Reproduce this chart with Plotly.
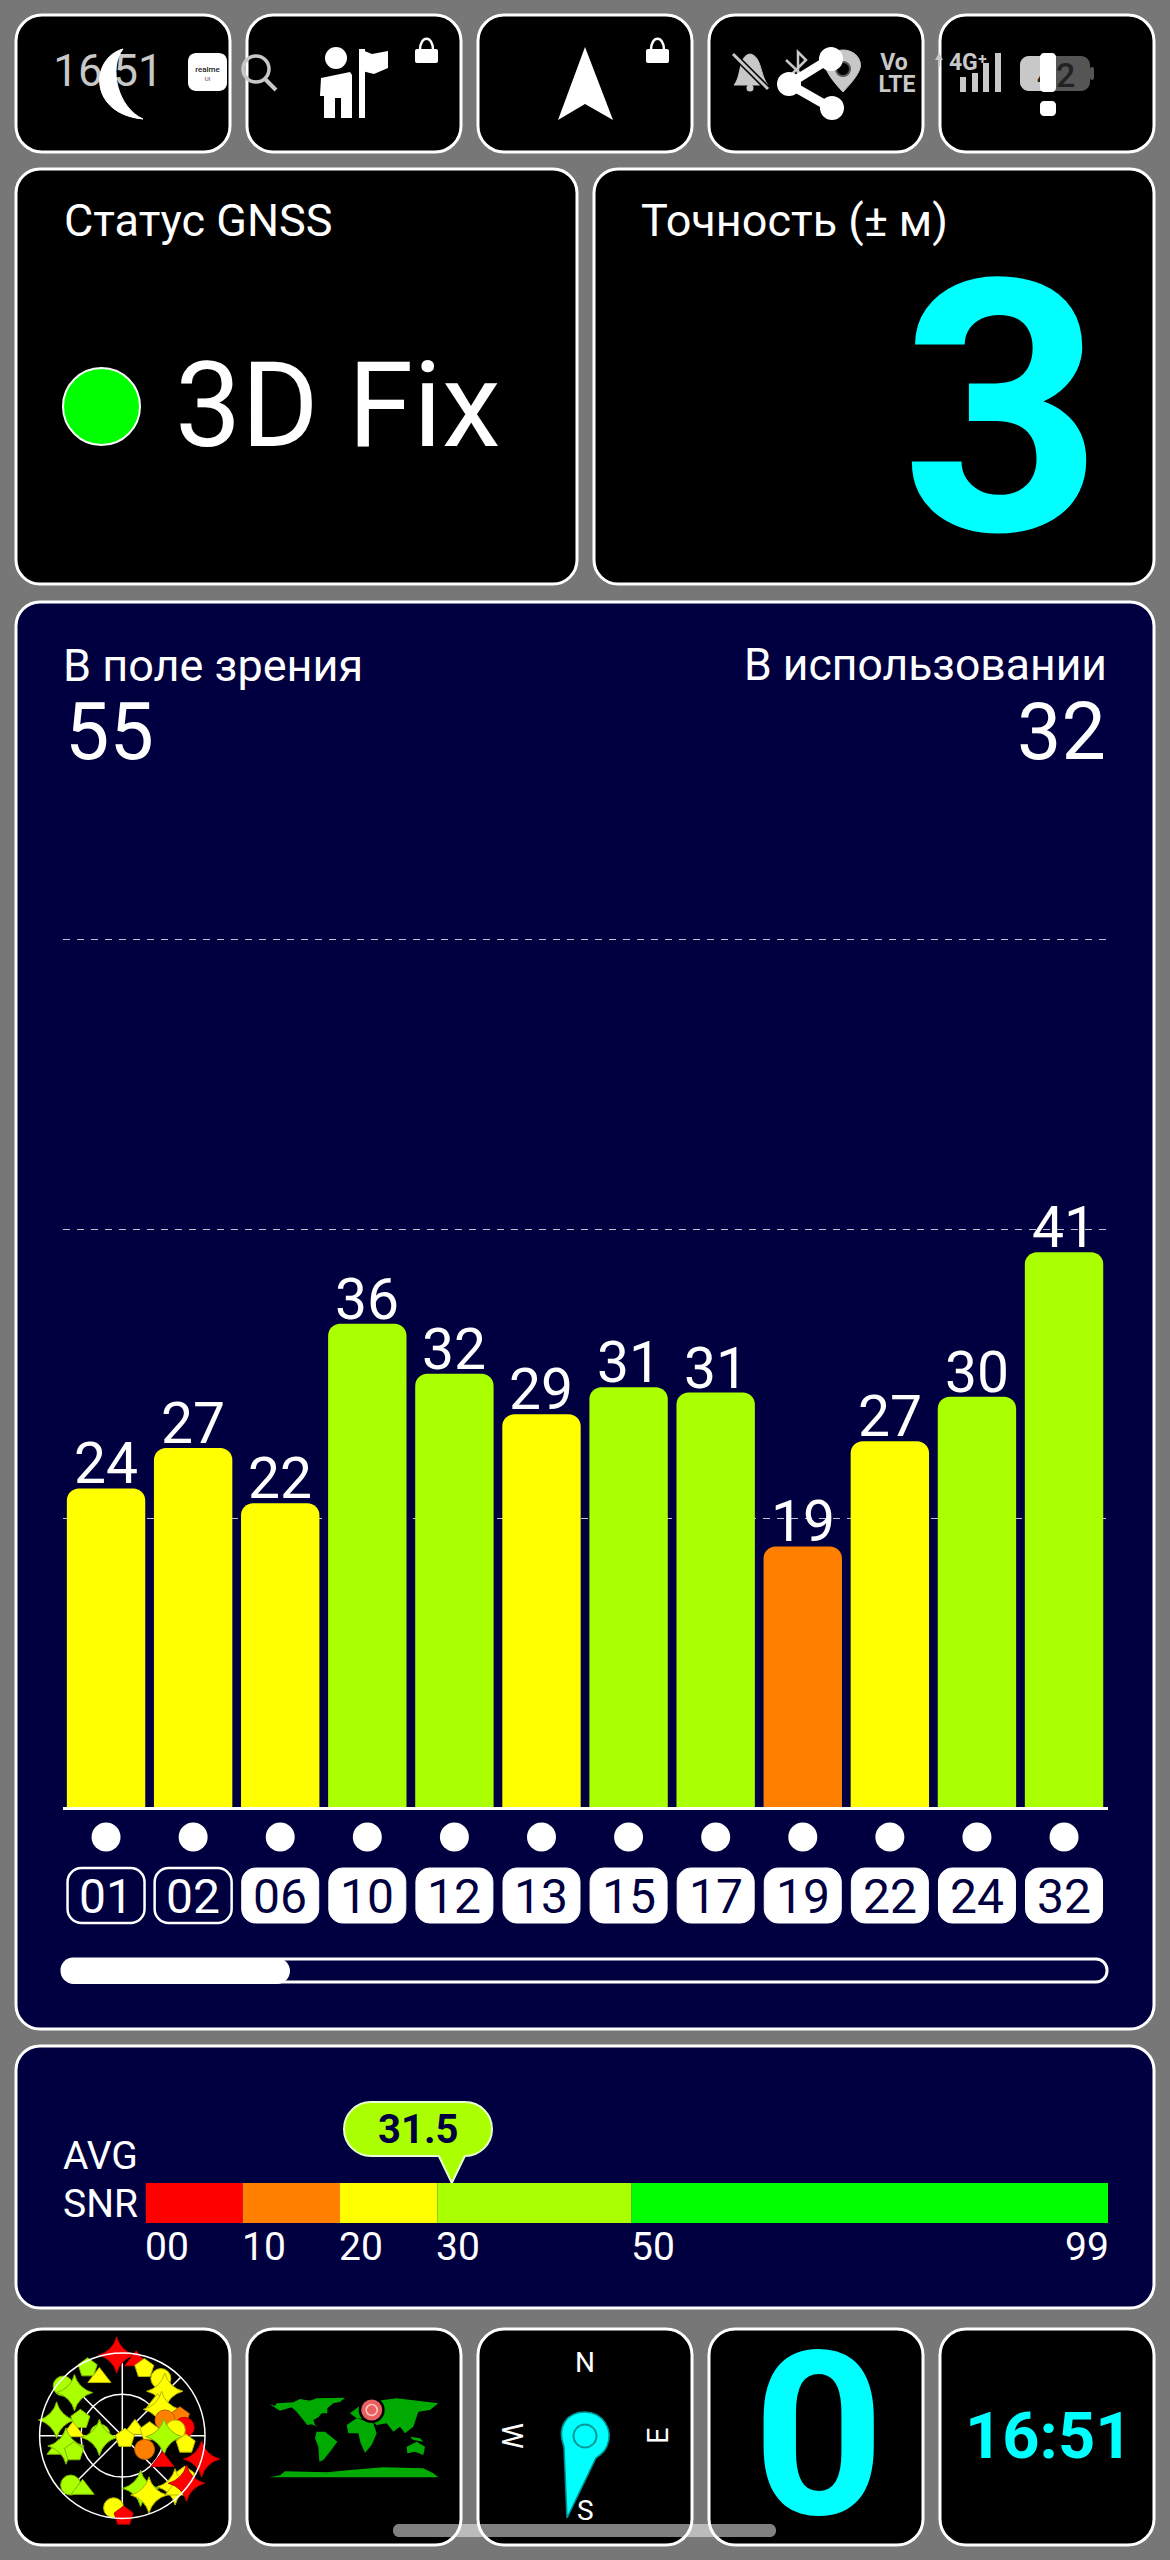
import plotly.graph_objects as go

# ---------- data ----------
sat_ids = ["01","02","06","10","12","13","15","17","19","22","24","32"]
sat_snr = [23.6,26.6,22.5,35.8,32.1,29.1,31.1,30.7,19.3,27.1,30.4,41.1]
sat_labels = ["24","27","22","36","32","29","31","31","19","27","30","41"]
sat_outlined = ["01","02"]
grid_vals = [21.4,42.8,64.3]

snr_start = [0,10,20,30,50]
snr_width = [10,10,10,20,49]
snr_ticks = [0,10,20,30,50]
snr_ticktext = ["00","10","20","30","50"]
snr_end = 99
snr_endtext = "99"
avg_snr = 31.5

in_view = "55"
in_use = "32"
accuracy = "3"
status = "3D Fix"
speed = "0"
clock = "16:51"

sky_az = [356,10.3,10.6,18.1,333,338.5,310,312,34,43.7,47.5,56.2,283.4,291.3,71.8,82.3,69.8,83.9,274.6,273.4,265.9,
          63.4,135,81.6,91.4,97.5,258,259.6,251.7,121.5,122.8,106.4,122.8,134.1,135,126.5,226.3,216.5,160.8,155.8,186.9,179]
sky_zen = [88,91,83,77,83,68,84,70,75,67,52,51.5,73.5,49,66,68,49.5,58,54,24.4,25,
           15.4,4,30,45.4,69.6,71,62.3,55.4,28.5,52,90,81,80,83.6,87,77.8,72.6,60.7,70.8,79,87.5]
sky_kind = ["star","circle","triangle","pentagon","pentagon","triangle","circle","star","circle","star","triangle","star","star","pentagon","pentagon","circle","circle","circle","triangle","circle","star",
            "triangle","pentagon","pentagon","star","pentagon","triangle","star","pentagon","circle","triangle","star","pentagon","star","triangle","star","circle","triangle","star","star","circle","pentagon"]
sky_level = ["r","y","r","y","l","y","l","l","y","y","y","y","l","l","o","r","o","y","y","l","l",
             "y","y","y","l","y","l","l","l","o","r","r","y","y","y","r","l","l","l","y","y","r"]

# ---------- style ----------
W, H = 1170, 2560
GREY = "#777777"; NAVY = "#000040"; CYAN = "#00ffff"; SOFT = "#c8c8c8"
RED = "#ff0000"; ORANGE = "#ff8000"; YELLOW = "#ffff00"; LIME = "#aaff00"; GREEN = "#00ff00"
MAPG = "#00aa00"
FONT = "Roboto"

def px(x): return x / W
def py(y): return 1 - y / H

def level_color(v):
    v = float(v)
    if v < 10: return RED
    if v < 20: return ORANGE
    if v < 30: return YELLOW
    if v < 50: return LIME
    return GREEN

shapes = []; annos = []

def path_str(cmds):
    out = []
    for c in cmds:
        if isinstance(c, str):
            out.append(c)
        else:
            out.append(f"{px(c[0]):.6f},{py(c[1]):.6f}")
    return " ".join(out)

def poly(points, fill, line=None, lw=0, layer="below"):
    cmds = []
    for i, p in enumerate(points):
        cmds += ["M" if i == 0 else "L", p]
    cmds.append("Z")
    shapes.append(dict(type="path", xref="paper", yref="paper", path=path_str(cmds),
                       fillcolor=fill, line=dict(color=line or "rgba(0,0,0,0)", width=lw), layer=layer))

def polyline(points, color, lw, layer="below"):
    cmds = []
    for i, p in enumerate(points):
        cmds += ["M" if i == 0 else "L", p]
    shapes.append(dict(type="path", xref="paper", yref="paper", path=path_str(cmds),
                       fillcolor="rgba(0,0,0,0)", line=dict(color=color, width=lw), layer=layer))

def rrect(x0, y0, x1, y1, r, fill, line=None, lw=0, layer="below"):
    k = 0.55 * r
    cmds = ["M", (x0 + r, y0), "L", (x1 - r, y0),
            "C", (x1 - r + k, y0), (x1, y0 + r - k), (x1, y0 + r),
            "L", (x1, y1 - r),
            "C", (x1, y1 - r + k), (x1 - r + k, y1), (x1 - r, y1),
            "L", (x0 + r, y1),
            "C", (x0 + r - k, y1), (x0, y1 - r + k), (x0, y1 - r),
            "L", (x0, y0 + r),
            "C", (x0, y0 + r - k), (x0 + r - k, y0), (x0 + r, y0), "Z"]
    shapes.append(dict(type="path", xref="paper", yref="paper", path=path_str(cmds),
                       fillcolor=fill, line=dict(color=line or "rgba(0,0,0,0)", width=lw), layer=layer))

def circle(cx, cy, r, fill, line=None, lw=0, layer="below"):
    shapes.append(dict(type="circle", xref="paper", yref="paper",
                       x0=px(cx - r), x1=px(cx + r), y0=py(cy + r), y1=py(cy - r),
                       fillcolor=fill, line=dict(color=line or "rgba(0,0,0,0)", width=lw), layer=layer))

def text(x, y, s, size, color="#ffffff", anchor="left", weight=400, angle=0, family=FONT):
    annos.append(dict(xref="paper", yref="paper", x=px(x), y=py(y), text=s, showarrow=False,
                      xanchor=anchor, yanchor="middle", textangle=angle,
                      font=dict(family=family, size=size, color=color, weight=weight)))

# ---------- panels ----------
small_x = [16, 247, 478, 709, 940]
for x in small_x:
    rrect(x, 15, x + 214, 152, 26, "#000000", "#ffffff", 3)
    rrect(x, 2329, x + 214, 2545, 26, "#000000", "#ffffff", 3)
rrect(16, 169, 577, 584, 24, "#000000", "#ffffff", 3)
rrect(594, 169, 1154, 584, 24, "#000000", "#ffffff", 3)
rrect(16, 602, 1154, 2029, 24, NAVY, "#ffffff", 3)
rrect(16, 2046, 1154, 2308, 24, NAVY, "#ffffff", 3)

# ---------- status bar icons ----------
shapes.append(dict(type="path", xref="paper", yref="paper",
                   path=path_str(["M", (123, 49), "C", (90, 58), (88, 114), (143, 119),
                                  "C", (118, 108), (108, 68), (123, 49), "Z"]),
                   fillcolor="#ffffff", line=dict(color="#ffffff", width=1), layer="above"))
rrect(188, 53, 227, 91, 8, "#ffffff")
circle(256, 69, 13, "rgba(0,0,0,0)", SOFT, 3.5)
polyline([(265, 79), (276, 90)], SOFT, 4)
# person with flag
circle(336, 58, 11, "#ffffff")
poly([(321, 78), (350, 72), (352, 75), (352, 118), (341, 118), (341, 98), (335, 98), (335, 118), (324, 118), (324, 96), (320, 96)], "#ffffff")
polyline([(362, 49), (362, 118)], "#ffffff", 6)
poly([(362, 50), (372, 54), (388, 51), (388, 68), (374, 74), (362, 71)], "#ffffff")
# locks
for lx in (415, 646):
    rrect(lx, 49, lx + 23, 63, 2, "#ffffff")
    shapes.append(dict(type="path", xref="paper", yref="paper",
                       path=path_str(["M", (lx + 5, 50), "C", (lx + 5, 35), (lx + 18, 35), (lx + 18, 50)]),
                       fillcolor="rgba(0,0,0,0)", line=dict(color="#ffffff", width=2.5), layer="below"))
# arrow
poly([(585, 47), (613, 120), (585, 104), (558, 120)], "#ffffff")
# bell
shapes.append(dict(type="path", xref="paper", yref="paper",
                   path=path_str(["M", (734, 85), "C", (742, 76), (738, 56), (750, 54), "C", (762, 56), (760, 76), (768, 85), "Z"]),
                   fillcolor=SOFT, line=dict(color=SOFT, width=1), layer="below"))
circle(750, 88, 3.5, SOFT)
polyline([(733, 54), (768, 89)], "#000000", 6)
polyline([(733, 54), (768, 89)], SOFT, 3)
polyline([(786, 60), (803, 76), (798, 82), (798, 52), (806, 60), (788, 78)], SOFT, 2.5)
# pin
shapes.append(dict(type="path", xref="paper", yref="paper",
                   path=path_str(["M", (843, 92), "C", (826, 74), (824, 66), (826, 62), "C", (830, 46), (856, 46), (860, 62),
                                  "C", (862, 68), (858, 76), (843, 92), "Z"]),
                   fillcolor=SOFT, line=dict(color=SOFT, width=1), layer="below"))
circle(843, 69, 7, "#000000", "#555555", 2)
# share
polyline([(831, 58), (789, 84), (831, 108)], "#ffffff", 9, layer="above")
for cy, cx in ((59, 831), (84, 789), (108, 832)):
    circle(cx, cy, 12, "#ffffff", layer="above")
# up arrow + signal
poly([(939, 53), (943, 60), (935, 60)], SOFT)
polyline([(939, 60), (939, 66)], SOFT, 2)
for sx, top in ((963, 77), (975, 73), (986, 63), (998, 53)):
    polyline([(sx, top), (sx, 92)], SOFT, 6)
# battery
rrect(1020, 56, 1090, 91, 9, "#555555")
rrect(1020, 56, 1052, 91, 9, SOFT)
rrect(1090, 67, 1094, 80, 2, "#555555")
# exclamation
rrect(1040, 53, 1056, 92, 4, "#ffffff", layer="above")
rrect(1040, 101, 1056, 116, 4, "#ffffff", layer="above")

# ---------- main text ----------
text(62, 221, "Статус GNSS", 45)
circle(101.5, 406.5, 38.5, GREEN, "#ffffff", 2)
text(173, 406, status, 118)
text(639, 221, "Точность (± м)", 45)
text(1002, 409, accuracy, 352, CYAN, "center", 700)
text(61, 665, "В поле зрения", 45)
text(63, 732, in_view, 79)
text(1109, 665, "В использовании", 44.5, anchor="right")
text(1108, 732, in_use, 79, anchor="right")

# ---------- scrollbar ----------
rrect(62, 1959, 1107, 1982, 11, NAVY, "#ffffff", 3)
rrect(61, 1958, 290, 1984, 13, "#ffffff")

# ---------- satellite IDs ----------
pitch = 87.09
bar_px0 = 62.5
for i, sid in enumerate(sat_ids):
    cx = bar_px0 + pitch * (i + 0.5)
    circle(cx, 1837, 14.5, "#ffffff")
    outlined = sid in sat_outlined
    rrect(cx - 38.5, 1868, cx + 38.5, 1923, 14, NAVY if outlined else "#ffffff", "#ffffff", 2.5 if outlined else 1)
    text(cx, 1896, sid, 48, "#ffffff" if outlined else NAVY, "center")

# ---------- bar value labels ----------
for i, (v, lab) in enumerate(zip(sat_snr, sat_labels)):
    annos.append(dict(xref="x", yref="y", x=i, y=v, text=lab, showarrow=False, xanchor="center",
                      yanchor="bottom", yshift=-11, font=dict(family=FONT, size=57, color="#ffffff")))

# ---------- AVG SNR ----------
text(61, 2156, "AVG", 39)
text(61, 2204, "SNR", 39)
snr_x0, snr_x1 = 145.6, 1108.0
tip = snr_x0 + (snr_x1 - snr_x0) * avg_snr / snr_end
shapes.append(dict(type="path", xref="paper", yref="paper",
                   path=path_str(["M", (371, 2102), "L", (465, 2102),
                                  "C", (480, 2102), (492, 2114), (492, 2129),
                                  "C", (492, 2144), (480, 2156), (465, 2156),
                                  "L", (tip + 13, 2156), "L", (tip, 2183), "L", (tip - 13, 2156),
                                  "L", (371, 2156),
                                  "C", (356, 2156), (344, 2144), (344, 2129),
                                  "C", (344, 2114), (356, 2102), (371, 2102), "Z"]),
                   fillcolor=LIME, line=dict(color="#e8ffd0", width=2), layer="below"))
text(417.5, 2129, f"{avg_snr}", 40, NAVY, "center", 700)

# ---------- world map ----------
def zm(p): return (250 + p[0] / 3, 2330 + p[1] / 3)
land = [
    [(58,222),(75,228),(80,220),(130,217),(150,207),(180,212),(200,205),(285,203),(270,216),(250,220),(240,228),(232,235),(232,250),(215,250),(205,262),(190,270),(195,285),(205,292),(185,283),(172,285),(160,270),(140,245),(125,232),(90,242)],
    [(200,305),(225,305),(262,335),(240,365),(220,390),(208,395),(205,350),(195,325)],
    [(290,285),(320,265),(370,280),(380,310),(365,345),(345,368),(332,340),(325,310),(295,310)],
    [(300,250),(340,220),(400,210),(440,205),(565,220),(540,240),(505,245),(490,290),(465,310),(450,290),(430,305),(410,280),(380,285),(360,270),(320,265)],
    [(470,350),(500,335),(525,350),(520,375),(495,365),(472,370)],
    [(480,320),(510,325),(520,335),(490,330)],
    [(58,442),(90,436),(105,424),(230,427),(300,420),(400,412),(520,415),(550,430),(565,442)],
]
for part in land:
    poly([zm(p) for p in part], MAPG)
circle(371.7, 2410, 13, "#000000")
circle(371.7, 2410, 10.5, "#e86060")
circle(371.7, 2410, 5.5, "rgba(0,0,0,0)", "#ffc8c8", 1.5)

# ---------- compass ----------
text(585, 2362, "N", 28, "#ffffff", "center")
text(512, 2436, "W", 29, "#ffffff", "center", angle=90)
text(658, 2436, "E", 29, "#ffffff", "center", angle=-90)
text(585, 2510, "S", 28, "#ffffff", "center")
shapes.append(dict(type="path", xref="paper", yref="paper",
                   path=path_str(["M", (564, 2447), "C", (556, 2425), (568, 2412), (585, 2412),
                                  "C", (603, 2412), (614, 2430), (607, 2446),
                                  "C", (605, 2452), (600, 2455), (596, 2458),
                                  "L", (567, 2518), "Z"]),
                   fillcolor=CYAN, line=dict(color="#008f8f", width=1.5), layer="below"))
circle(585, 2436, 11.5, CYAN, "#009a9a", 2)
text(818, 2436, speed, 229, CYAN, "center", 700)
text(1048, 2436, clock, 65, CYAN, "center", 700)

# ---------- home pill ----------
rrect(393, 2524, 776, 2537, 6, "rgba(255,255,255,0.5)", layer="above")

# ---------- traces ----------
fig = go.Figure()
fig.add_trace(go.Bar(
    x=sat_ids, y=sat_snr,
    marker=dict(color=[level_color(v) for v in sat_labels], cornerradius=12, line=dict(width=0)),
    width=0.9, hoverinfo="skip", xaxis="x", yaxis="y"))

fig.add_trace(go.Bar(
    y=["SNR"] * len(snr_width), x=snr_width, base=snr_start, orientation="h",
    marker=dict(color=[level_color(s) for s in snr_start], line=dict(width=0)),
    width=1, hoverinfo="skip", xaxis="x3", yaxis="y3"))
for v, label in zip(snr_ticks, snr_ticktext):
    annos.append(dict(xref="x3", yref="paper", x=v, y=py(2247), text=label, showarrow=False, xshift=-3,
                      xanchor="left", yanchor="middle", font=dict(family=FONT, size=39, color="#ffffff")))
annos.append(dict(xref="x3", yref="paper", x=snr_end, y=py(2247), text=snr_endtext, showarrow=False, xshift=3,
                  xanchor="right", yanchor="middle", font=dict(family=FONT, size=39, color="#ffffff")))

# status-bar texts stay under the white foreground icons, so they are trace text
status_txt = [(108, 75, "16:51", 44, SOFT, 400), (207.5, 70, "realme", 8, "#222222", 500), (207.5, 79, "UI", 6, "#444444", 400),
              (894, 64, "Vo", 23, SOFT, 700), (897, 86, "LTE", 23, SOFT, 700),
              (968, 64, "4G⁺", 23, SOFT, 700), (1056, 78, "42", 34, "#222222", 500)]
for x, y, s, size, col, wt in status_txt:
    fig.add_trace(go.Scatter(x=[x], y=[y], text=[s], mode="text", textposition="middle center",
                             textfont=dict(family=FONT, size=size, color=col, weight=wt),
                             hoverinfo="skip", xaxis="x2", yaxis="y2", cliponaxis=False))

sym = dict(star="star-diamond", circle="circle", triangle="triangle-up", pentagon="pentagon")
size_of = dict(star=26, circle=20, triangle=20, pentagon=20)
fill_of = dict(r=RED, o=ORANGE, y=YELLOW, l=LIME)
edge_of = dict(r="#c00000", o="#c06000", y="#b8b800", l="#80b800")
fig.add_trace(go.Scatterpolar(
    theta=sky_az, r=sky_zen, mode="markers", cliponaxis=False, hoverinfo="skip",
    marker=dict(symbol=[sym[k] for k in sky_kind], size=[size_of[k] for k in sky_kind], opacity=1,
                color=[fill_of[c] for c in sky_level],
                line=dict(color=[edge_of[c] for c in sky_level], width=1))))

ycx, ycy, yr = 122.3, 2435.7, 82.7
fig.update_layout(
    width=W, height=H, autosize=False, margin=dict(l=0, r=0, t=0, b=0, pad=0),
    paper_bgcolor=GREY, plot_bgcolor="rgba(0,0,0,0)", showlegend=False, hovermode=False,
    barmode="overlay", shapes=shapes, annotations=annos,
    font=dict(family=FONT),
    xaxis=dict(domain=[px(bar_px0), px(bar_px0 + 12 * pitch)], type="category", range=[-0.5, 11.5],
               showticklabels=False, ticks="", showgrid=False, zeroline=False,
               showline=True, linecolor="#ffffff", linewidth=3, fixedrange=True),
    yaxis=dict(domain=[py(1807), py(900)], range=[0, 67.19], tickvals=grid_vals, showticklabels=False,
               ticks="", showgrid=True, gridcolor="rgba(255,255,255,0.75)", gridwidth=1,
               griddash="7px,7px", zeroline=False, showline=False, fixedrange=True),
    xaxis2=dict(domain=[0, 1], range=[0, W], visible=False, fixedrange=True),
    yaxis2=dict(domain=[0, 1], range=[H, 0], visible=False, fixedrange=True),
    xaxis3=dict(domain=[px(snr_x0), px(snr_x1)], range=[0, snr_end], visible=False, fixedrange=True),
    yaxis3=dict(domain=[py(2223), py(2183)], type="category", range=[-0.5, 0.5], visible=False, fixedrange=True),
    polar=dict(domain=dict(x=[px(ycx - yr), px(ycx + yr)], y=[py(ycy + yr), py(ycy - yr)]),
               bgcolor="rgba(0,0,0,0)",
               radialaxis=dict(range=[0, 90], tickvals=[45, 90], showticklabels=False, ticks="", showline=False,
                               gridcolor="#ffffff", gridwidth=1.5),
               angularaxis=dict(rotation=90, direction="clockwise", tickvals=[0, 45, 90, 135, 180, 225, 270, 315],
                                showticklabels=False, ticks="", gridcolor="#ffffff", gridwidth=1.5,
                                linecolor="#ffffff", linewidth=1.5, showline=True)),
)

fig.write_html("out.html", config=dict(displayModeBar=False, staticPlot=True),
               post_script="document.body.style.margin='0';document.documentElement.style.overflow='hidden';")
